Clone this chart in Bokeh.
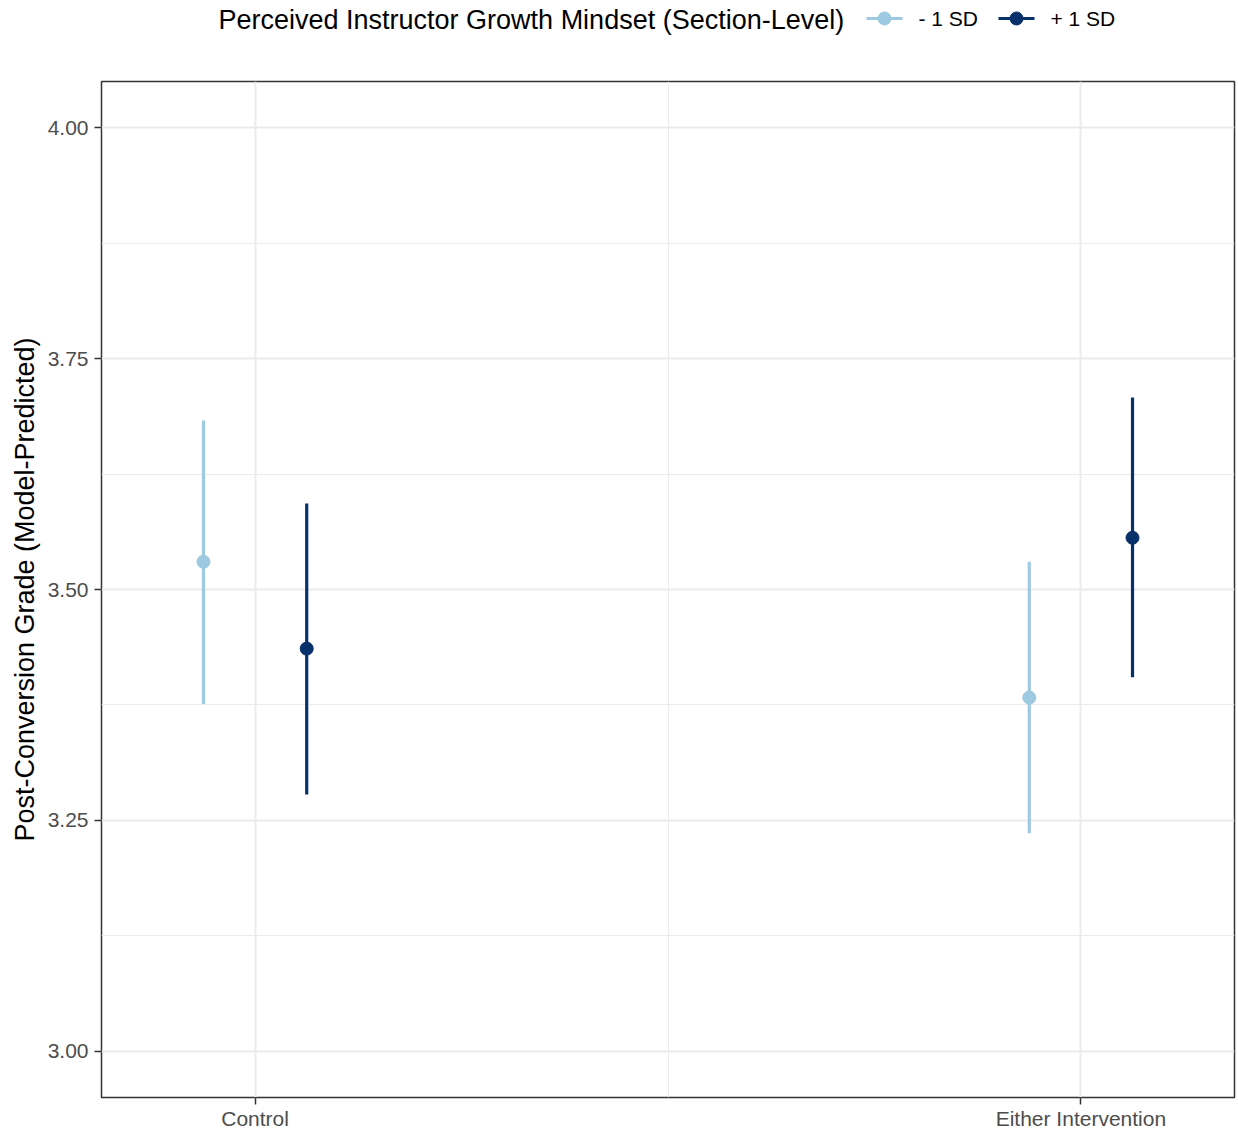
from bokeh.plotting import figure
from bokeh.models import ColumnDataSource, Range1d, FixedTicker, NumeralTickFormatter
from bokeh.transform import dodge
from bokeh.layouts import column
from bokeh.core.properties import value
from bokeh.embed import file_html
from bokeh.resources import INLINE

# ---- data ----
conditions = ["Control", "Either Intervention"]
levels = ["- 1 SD", "+ 1 SD"]
legend_title = "Perceived Instructor Growth Mindset (Section-Level)"
y_label = "Post-Conversion Grade (Model-Predicted)"

est_minus = [3.530, 3.383]
low_minus = [3.376, 3.236]
high_minus = [3.683, 3.530]

est_plus = [3.436, 3.556]
low_plus = [3.278, 3.405]
high_plus = [3.593, 3.708]

y_ticks = [3.00, 3.25, 3.50, 3.75, 4.00]

colors = ["#9ECAE1", "#08306B"]
FONT = "Liberation Sans"

W = 1238
FRAME_L, FRAME_R = 101, 1234
HEAD_H = 80

x_idx = [i + 1 for i in range(len(conditions))]

p = figure(width=W, height=1132 - HEAD_H,
           x_range=Range1d(0.814, 2.186), y_range=Range1d(2.95, 4.05),
           output_backend="svg", toolbar_location=None,
           min_border_left=FRAME_L, min_border_right=W - FRAME_R,
           min_border_top=1, min_border_bottom=34)

p.background_fill_color = "white"
p.border_fill_color = "white"
p.outline_line_color = "#333333"
p.outline_line_width = 1.5

series = [(est_minus, low_minus, high_minus, -0.0625), (est_plus, low_plus, high_plus, 0.0625)]
for (est, lo, hi, off), col in zip(series, colors):
    src = ColumnDataSource(dict(x=x_idx, est=est, lo=lo, hi=hi))
    p.segment(x0=dodge("x", off), y0="lo", x1=dodge("x", off), y1="hi", source=src,
              line_color=col, line_width=3.2)
    p.scatter(x=dodge("x", off), y="est", source=src, size=13,
              fill_color=col, line_color=col)

# axes
p.xaxis.ticker = FixedTicker(ticks=x_idx, minor_ticks=[(a + b) / 2 for a, b in zip(x_idx[:-1], x_idx[1:])])
p.xaxis.major_label_overrides = {i: c for i, c in zip(x_idx, conditions)}
p.yaxis.ticker = FixedTicker(ticks=y_ticks, minor_ticks=[(a + b) / 2 for a, b in zip(y_ticks[:-1], y_ticks[1:])])
p.yaxis.formatter = NumeralTickFormatter(format="0.00")

for ax in (p.xaxis, p.yaxis):
    ax.axis_line_color = None
    ax.major_tick_line_color = "#333333"
    ax.major_tick_line_width = 1.5
    ax.major_tick_out = 7
    ax.major_tick_in = 0
    ax.minor_tick_line_color = None
    ax.major_label_text_font = FONT
    ax.major_label_text_font_size = "21px"
    ax.major_label_text_color = "#4D4D4D"
p.yaxis.major_label_standoff = 6
p.xaxis.major_label_standoff = 2

p.yaxis.axis_label = y_label
p.yaxis.axis_label_text_font = FONT
p.yaxis.axis_label_text_font_size = "27px"
p.yaxis.axis_label_text_font_style = "normal"
p.yaxis.axis_label_text_color = "black"
p.yaxis.axis_label_standoff = 5

for g in (p.xgrid, p.ygrid):
    g.grid_line_color = "#EBEBEB"
    g.grid_line_width = 2
    g.minor_grid_line_color = "#EBEBEB"
    g.minor_grid_line_width = 1

# ---- header with legend (its frame is aligned with the main frame) ----
h = figure(width=W, height=HEAD_H, x_range=Range1d(FRAME_L, FRAME_R), y_range=Range1d(0, HEAD_H),
           output_backend="svg", toolbar_location=None,
           x_axis_location=None, y_axis_location=None,
           min_border_left=FRAME_L, min_border_right=W - FRAME_R, min_border_top=0, min_border_bottom=0)
h.grid.visible = False
h.outline_line_color = None
h.background_fill_color = "white"
h.border_fill_color = "white"

def hy(page_y):
    return HEAD_H - page_y

h.text(x=[218], y=[hy(19)], text=[legend_title], text_font=value(FONT), text_font_size="27px",
       text_baseline="middle", text_align="left", text_color="black")
key_x = [866, 998]
for kx, col, lab in zip(key_x, colors, levels):
    h.segment(x0=[kx], y0=[hy(18)], x1=[kx + 36], y1=[hy(18)], line_color=col, line_width=3.2)
    h.scatter(x=[kx + 18], y=[hy(18)], size=13, fill_color=col, line_color=col)
    h.text(x=[kx + 52], y=[hy(18)], text=[lab], text_font=value(FONT), text_font_size="21px",
           text_baseline="middle", text_align="left", text_color="black")

layout = column(h, p, spacing=0)
open("out.html", "w").write(file_html(layout, INLINE))
